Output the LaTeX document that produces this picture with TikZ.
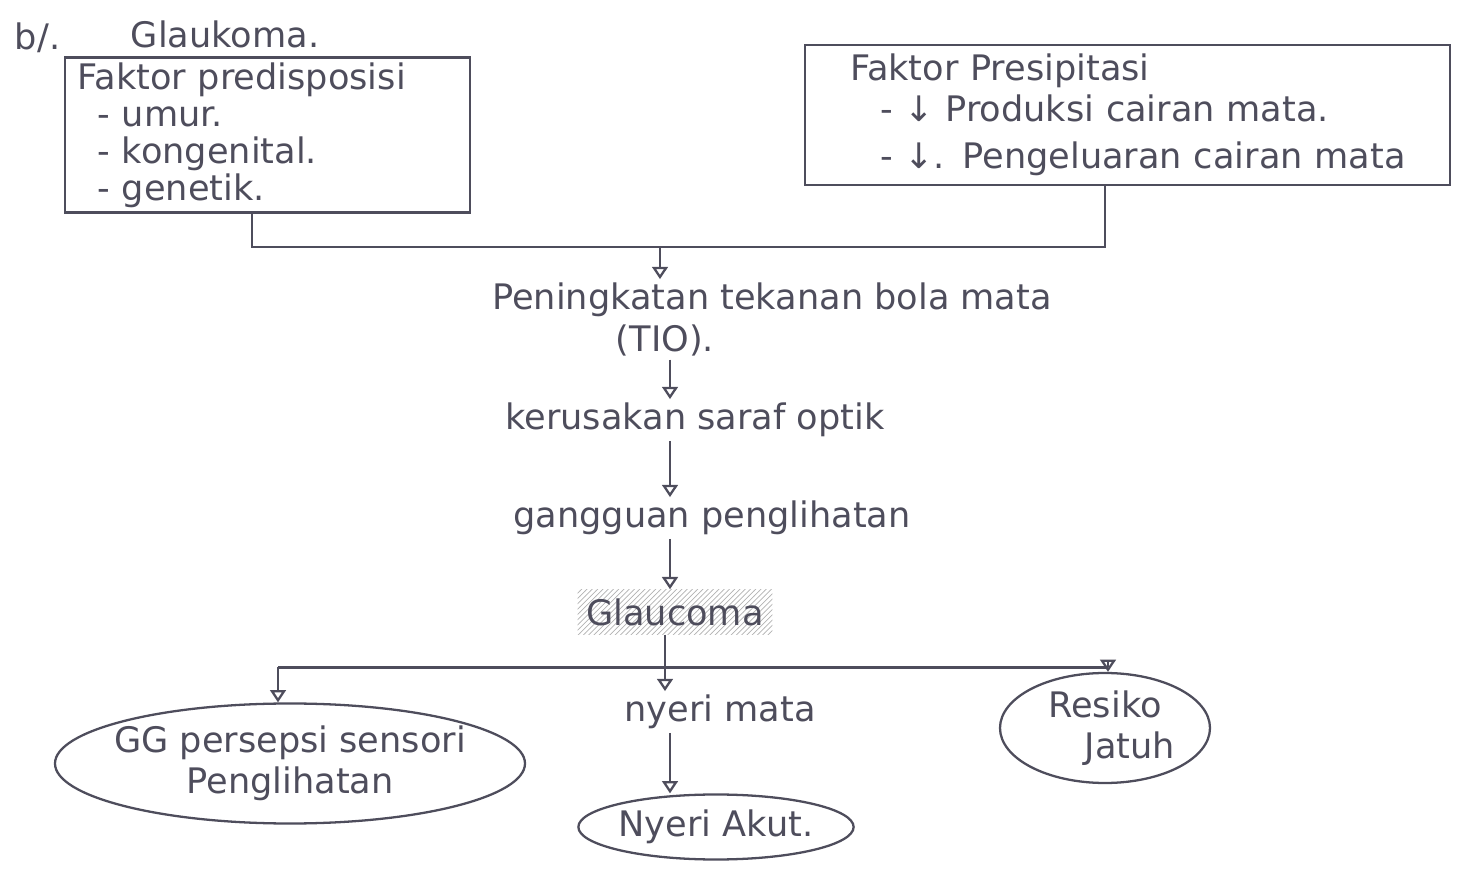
\documentclass[tikz,border=0pt]{standalone}
\usepackage{fontspec}
\setmainfont{DejaVu Sans}
\usepackage{tikz}
\usetikzlibrary{arrows.meta, patterns, shapes.geometric, positioning}
\definecolor{ink}{HTML}{4E4D5C}

\begin{document}
\begin{tikzpicture}[font=\fontsize{20}{23}\selectfont, every node/.style={text=ink},
                    box/.style = {draw=ink, line width=1.3pt, align=left, inner xsep=6pt, inner ysep=2pt,
                                  font=\fontsize{20}{21}\selectfont},
                    oval/.style = {draw=ink, line width=1.3pt, ellipse, align=center, inner sep=0pt},
                    txt/.style = {inner sep=2pt},
                    arr/.style = {draw=ink, line width=1.3pt, -{Triangle[open, length=7pt, width=9pt]}},
                    ln/.style = {draw=ink, line width=1.3pt}]
                    \useasboundingbox (0,0) rectangle (29.26,-17.62);

                    \node[txt] (nomor) at (0.75,-0.75) {b/.};
                    \node[txt] (judul) at (4.5,-0.68) {Glaukoma.};

                    \node[box, minimum width=8.1cm, minimum height=3.1cm, text width=7.6cm] (predis) at (5.35,-2.7)
                        {Faktor predisposisi\\\hspace{0.4cm}- umur.\\\hspace{0.4cm}- kongenital.\\\hspace{0.4cm}- genetik.};
                    \node[box, minimum width=12.9cm, minimum height=2.8cm, text width=12.3cm] (presip) at (22.55,-2.3)
                        {\hspace{0.6cm}Faktor Presipitasi\\[2pt]\hspace{1.2cm}- ↓ Produksi cairan mata.\\[6pt]\hspace{1.2cm}- ↓. Pengeluaran cairan mata};

                    \coordinate (jl) at (5.04,-4.94);
                    \coordinate (jr) at (22.1,-4.94);
                    \coordinate (jm) at (13.2,-4.94);
                    \coordinate (ax) at (13.4,0);

                    \node[txt] (tio1) at (15.44,-6.0) {Peningkatan tekanan bola mata};
                    \node[txt] (tio2) at (13.3,-6.8) {(TIO).};
                    \node[txt] (rusak) at (13.9,-8.4) {kerusakan saraf optik};
                    \node[txt] (ganggu) at (14.24,-10.36) {gangguan penglihatan};
                    \node[inner sep=5pt, pattern=north east lines, pattern color=gray!60] (glauc) at (13.5,-12.24) {Glaucoma};

                    \coordinate (bl) at (5.56,-13.35);
                    \coordinate (bm) at (13.3,-13.35);
                    \coordinate (br) at (22.16,-13.35);

                    \node[oval, inner xsep=-0.3cm, minimum width=9.4cm, minimum height=2.4cm] (gg) at (5.8,-15.27) {GG persepsi sensori\\Penglihatan};
                    \node[txt] (nyeri) at (14.4,-14.24) {nyeri mata};
                    \node[oval, minimum width=5.5cm, minimum height=1.3cm] (akut) at (14.32,-16.54) {Nyeri Akut.};
                    \node[oval, minimum width=4.2cm, minimum height=2.2cm] (jatuh) at (22.1,-14.56) {Resiko\\\hspace{1cm}Jatuh};

                    % faktor -> TIO
                    \path[ln] (predis.south -| jl) -- (jl) -- (jr) -- (presip.south -| jr);
                    \path[arr] (jm) -- (jm |- tio1.north);

                    \path[arr] (tio2.south -| ax) -- (rusak.north -| ax);
                    \path[arr] (rusak.south -| ax) -- (ganggu.north -| ax);
                    \path[arr] (ganggu.south -| ax) -- (glauc.north -| ax);

                    % cabang
                    \path[ln] (glauc.south -| bm) -- (bm);
                    \path[ln] (bl) -- (br);
                    \path[arr] (bl) -- (bl |- gg.north);
                    \path[arr] (bm) -- (bm |- nyeri.north);
                    \path[arr] (br) -- (br |- jatuh.north);
                    \path[arr] (nyeri.south -| ax) -- (akut.north -| ax);
                \end{tikzpicture}
\end{document}
